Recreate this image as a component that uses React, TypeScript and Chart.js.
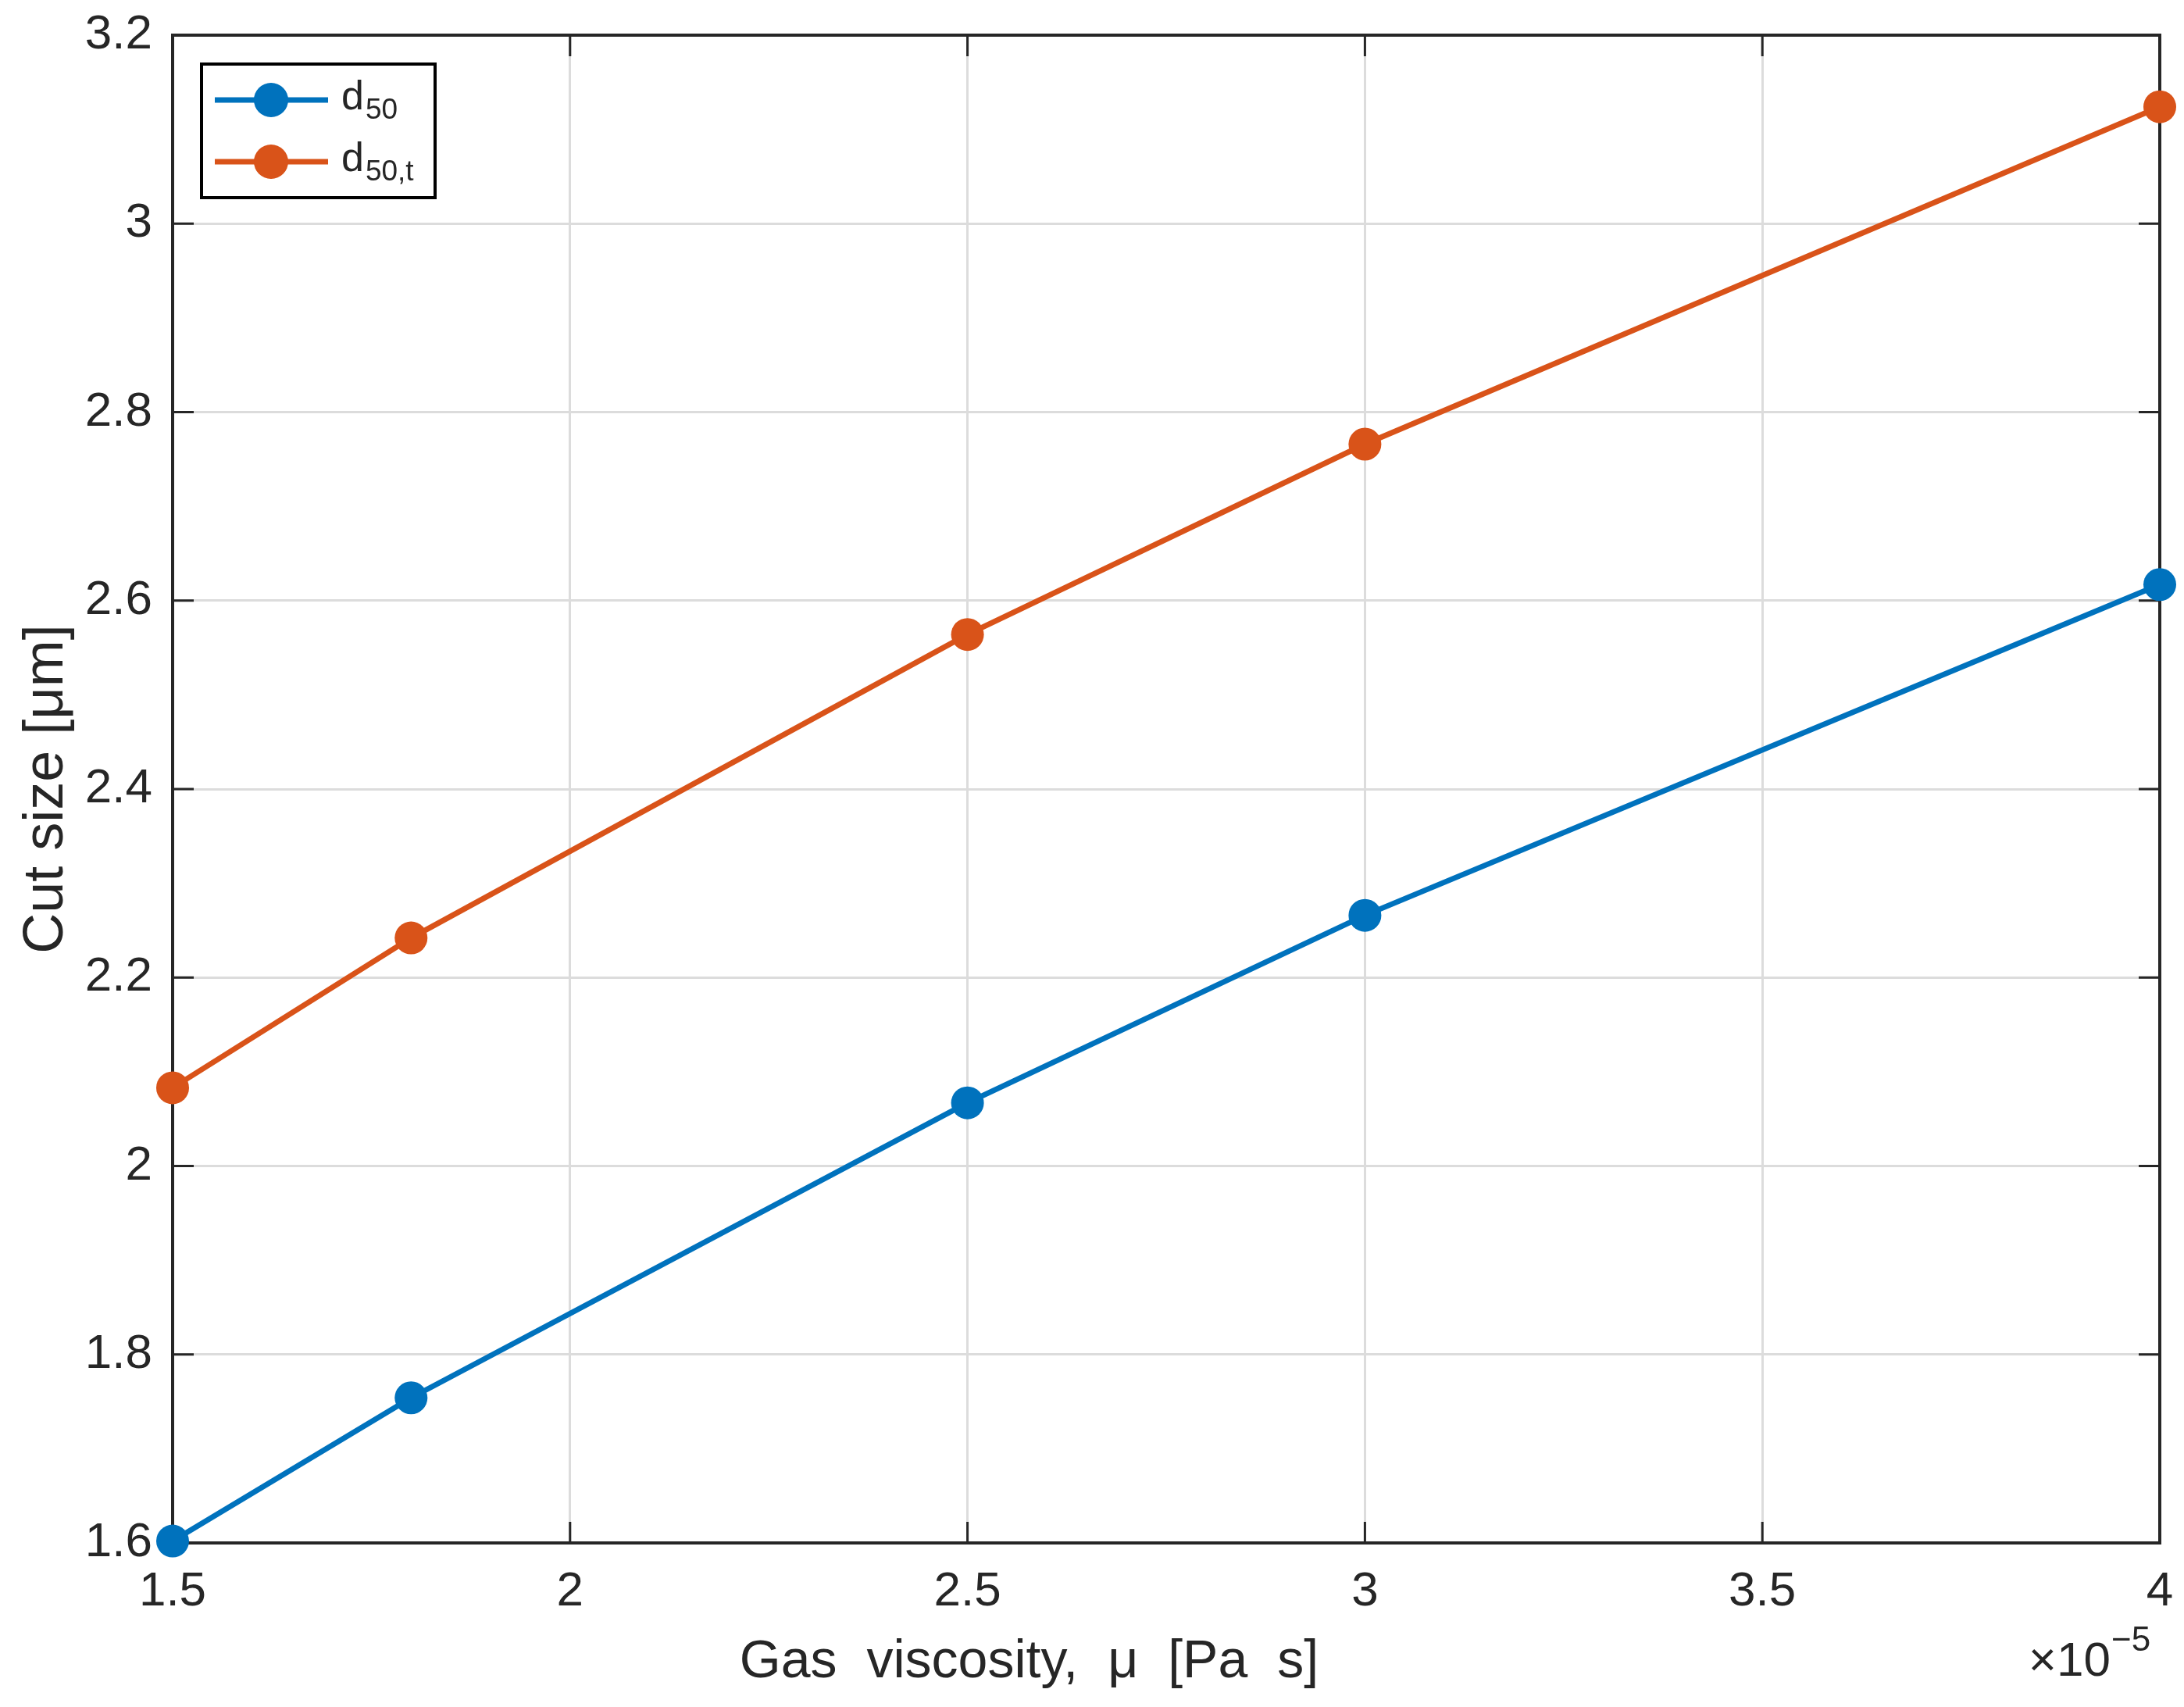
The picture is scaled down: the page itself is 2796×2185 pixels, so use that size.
import { useEffect, useRef } from 'react';
import { Chart, registerables } from 'chart.js';

Chart.register(...registerables);

// gas viscosity in units of 1e-5 Pa s
const viscosity = [1.5, 1.8, 2.5, 3.0, 4.0];
const d50 = [1.602, 1.754, 2.067, 2.266, 2.617];
const d50t = [2.083, 2.242, 2.564, 2.766, 3.124];
const xTicks = [1.5, 2, 2.5, 3, 3.5, 4];
const yTicks = [1.6, 1.8, 2.0, 2.2, 2.4, 2.6, 2.8, 3.0, 3.2];
const seriesMain = ['d', 'd'];
const seriesSub = ['50', '50,t'];
const seriesColors = ['#0072BD', '#D95319'];

const FONT = "'Liberation Sans', Arial, Helvetica, sans-serif";
const INK = '#262626';
const fmt = (v: number) => String(Number(v.toFixed(2)));

const framePlugin = {
  id: 'matlabFrame',
  beforeDatasetsDraw(chart: any) {
    const { ctx, chartArea: ca, scales } = chart;
    ctx.save();
    ctx.strokeStyle = INK;
    ctx.lineWidth = 3;
    const tl = 27;
    ctx.beginPath();
    xTicks.forEach((v) => {
      const x = scales.x.getPixelForValue(v);
      ctx.moveTo(x, ca.bottom);
      ctx.lineTo(x, ca.bottom - tl);
      ctx.moveTo(x, ca.top);
      ctx.lineTo(x, ca.top + tl);
    });
    yTicks.forEach((v) => {
      const y = scales.y.getPixelForValue(v);
      ctx.moveTo(ca.left, y);
      ctx.lineTo(ca.left + tl, y);
      ctx.moveTo(ca.right, y);
      ctx.lineTo(ca.right - tl, y);
    });
    ctx.stroke();
    ctx.lineWidth = 4;
    ctx.strokeRect(ca.left, ca.top, ca.right - ca.left, ca.bottom - ca.top);
    ctx.restore();
  },
  afterDatasetsDraw(chart: any) {
    const { ctx, chartArea: ca } = chart;
    ctx.save();
    // legend box
    const bx = ca.left + 37;
    const by = ca.top + 37;
    const bw = 299;
    const bh = 171;
    ctx.fillStyle = '#ffffff';
    ctx.fillRect(bx, by, bw, bh);
    ctx.strokeStyle = '#000000';
    ctx.lineWidth = 4;
    ctx.strokeRect(bx, by, bw, bh);
    seriesMain.forEach((m, i) => {
      const cy = by + 46 + i * 79;
      ctx.strokeStyle = seriesColors[i];
      ctx.lineWidth = 7;
      ctx.beginPath();
      ctx.moveTo(bx + 17, cy);
      ctx.lineTo(bx + 162, cy);
      ctx.stroke();
      ctx.fillStyle = seriesColors[i];
      ctx.beginPath();
      ctx.arc(bx + 89, cy, 22, 0, Math.PI * 2);
      ctx.fill();
      ctx.fillStyle = INK;
      ctx.textAlign = 'left';
      ctx.textBaseline = 'alphabetic';
      ctx.font = `52px ${FONT}`;
      ctx.fillText(m, bx + 179, cy + 12);
      const w = ctx.measureText(m).width;
      ctx.font = `37px ${FONT}`;
      ctx.fillText(seriesSub[i], bx + 181 + w, cy + 24);
    });
    ctx.restore();
  },
  afterDraw(chart: any) {
    const { ctx, chartArea: ca } = chart;
    ctx.save();
    ctx.fillStyle = INK;
    // y title
    ctx.save();
    ctx.translate(80, (ca.top + ca.bottom) / 2);
    ctx.rotate(-Math.PI / 2);
    ctx.textAlign = 'center';
    ctx.textBaseline = 'alphabetic';
    ctx.font = `72px ${FONT}`;
    ctx.fillText('Cut size [μm]', 0, 0);
    ctx.restore();
    // x title
    ctx.textAlign = 'center';
    ctx.textBaseline = 'alphabetic';
    ctx.font = `68px ${FONT}`;
    (ctx as any).wordSpacing = '19px';
    ctx.fillText('Gas viscosity, μ [Pa s]', ca.left + (ca.right - ca.left) * 0.431, ca.bottom + 172);
    (ctx as any).wordSpacing = '0px';
    // exponent
    ctx.textAlign = 'right';
    ctx.font = `62px ${FONT}`;
    ctx.fillText('×10', ca.right - 63, ca.bottom + 170);
    ctx.textAlign = 'left';
    ctx.font = `44px ${FONT}`;
    ctx.fillText('−5', ca.right - 62, ca.bottom + 138);
    ctx.restore();
  },
};

const noPad = (s: any) => {
  s.paddingTop = 0;
  s.paddingBottom = 0;
  s.paddingLeft = 0;
  s.paddingRight = 0;
};

const App = () => {
  const canvasRef = useRef<HTMLCanvasElement>(null);
  const chartRef = useRef<Chart | null>(null);

  useEffect(() => {
    if (!canvasRef.current) return;
    const ctx = canvasRef.current.getContext('2d');
    if (!ctx) return;
    if (chartRef.current) chartRef.current.destroy();

    const makeSet = (label: string, values: number[], color: string) => ({
      label,
      data: viscosity.map((x, i) => ({ x, y: values[i] })),
      borderColor: color,
      backgroundColor: color,
      borderWidth: 7,
      pointRadius: 21,
      pointHoverRadius: 21,
      pointBorderWidth: 0,
      pointBackgroundColor: color,
      tension: 0,
      clip: false as any,
    });

    chartRef.current = new Chart(ctx, {
      type: 'line',
      data: {
        datasets: [
          makeSet('d50', d50, seriesColors[0]),
          makeSet('d50,t', d50t, seriesColors[1]),
        ],
      },
      options: {
        animation: false,
        responsive: true,
        maintainAspectRatio: false,
        devicePixelRatio: 1,
        layout: { autoPadding: false, padding: { top: 45, right: 31, left: 0, bottom: 0 } },
        plugins: {
          legend: { display: false },
          tooltip: { enabled: false },
        },
        scales: {
          x: {
            type: 'linear',
            min: 1.5,
            max: 4,
            afterBuildTicks: (s: any) => {
              s.ticks = xTicks.map((value) => ({ value }));
            },
            afterFit: (s: any) => {
              s.height = 210;
              noPad(s);
            },
            grid: { color: '#dcdcdc', lineWidth: 3, drawTicks: false },
            border: { display: false },
            ticks: {
              padding: 26,
              color: INK,
              font: { family: FONT, size: 62 },
              maxRotation: 0,
              callback: (v: any) => fmt(Number(v)),
            },
          },
          y: {
            type: 'linear',
            min: 1.6,
            max: 3.2,
            afterBuildTicks: (s: any) => {
              s.ticks = yTicks.map((value) => ({ value }));
            },
            afterFit: (s: any) => {
              s.width = 221;
              noPad(s);
            },
            grid: { color: '#dcdcdc', lineWidth: 3, drawTicks: false },
            border: { display: false },
            ticks: {
              padding: 26,
              color: INK,
              font: { family: FONT, size: 62 },
              callback: (v: any) => fmt(Number(v)),
            },
          },
        },
      },
      plugins: [framePlugin],
    });

    return () => {
      if (chartRef.current) {
        chartRef.current.destroy();
        chartRef.current = null;
      }
    };
  }, []);

  return (
    <div style={{ position: 'absolute', left: 0, top: 0, width: 2796, height: 2185, background: '#ffffff' }}>
      <canvas ref={canvasRef}></canvas>
    </div>
  );
};

export default App;
